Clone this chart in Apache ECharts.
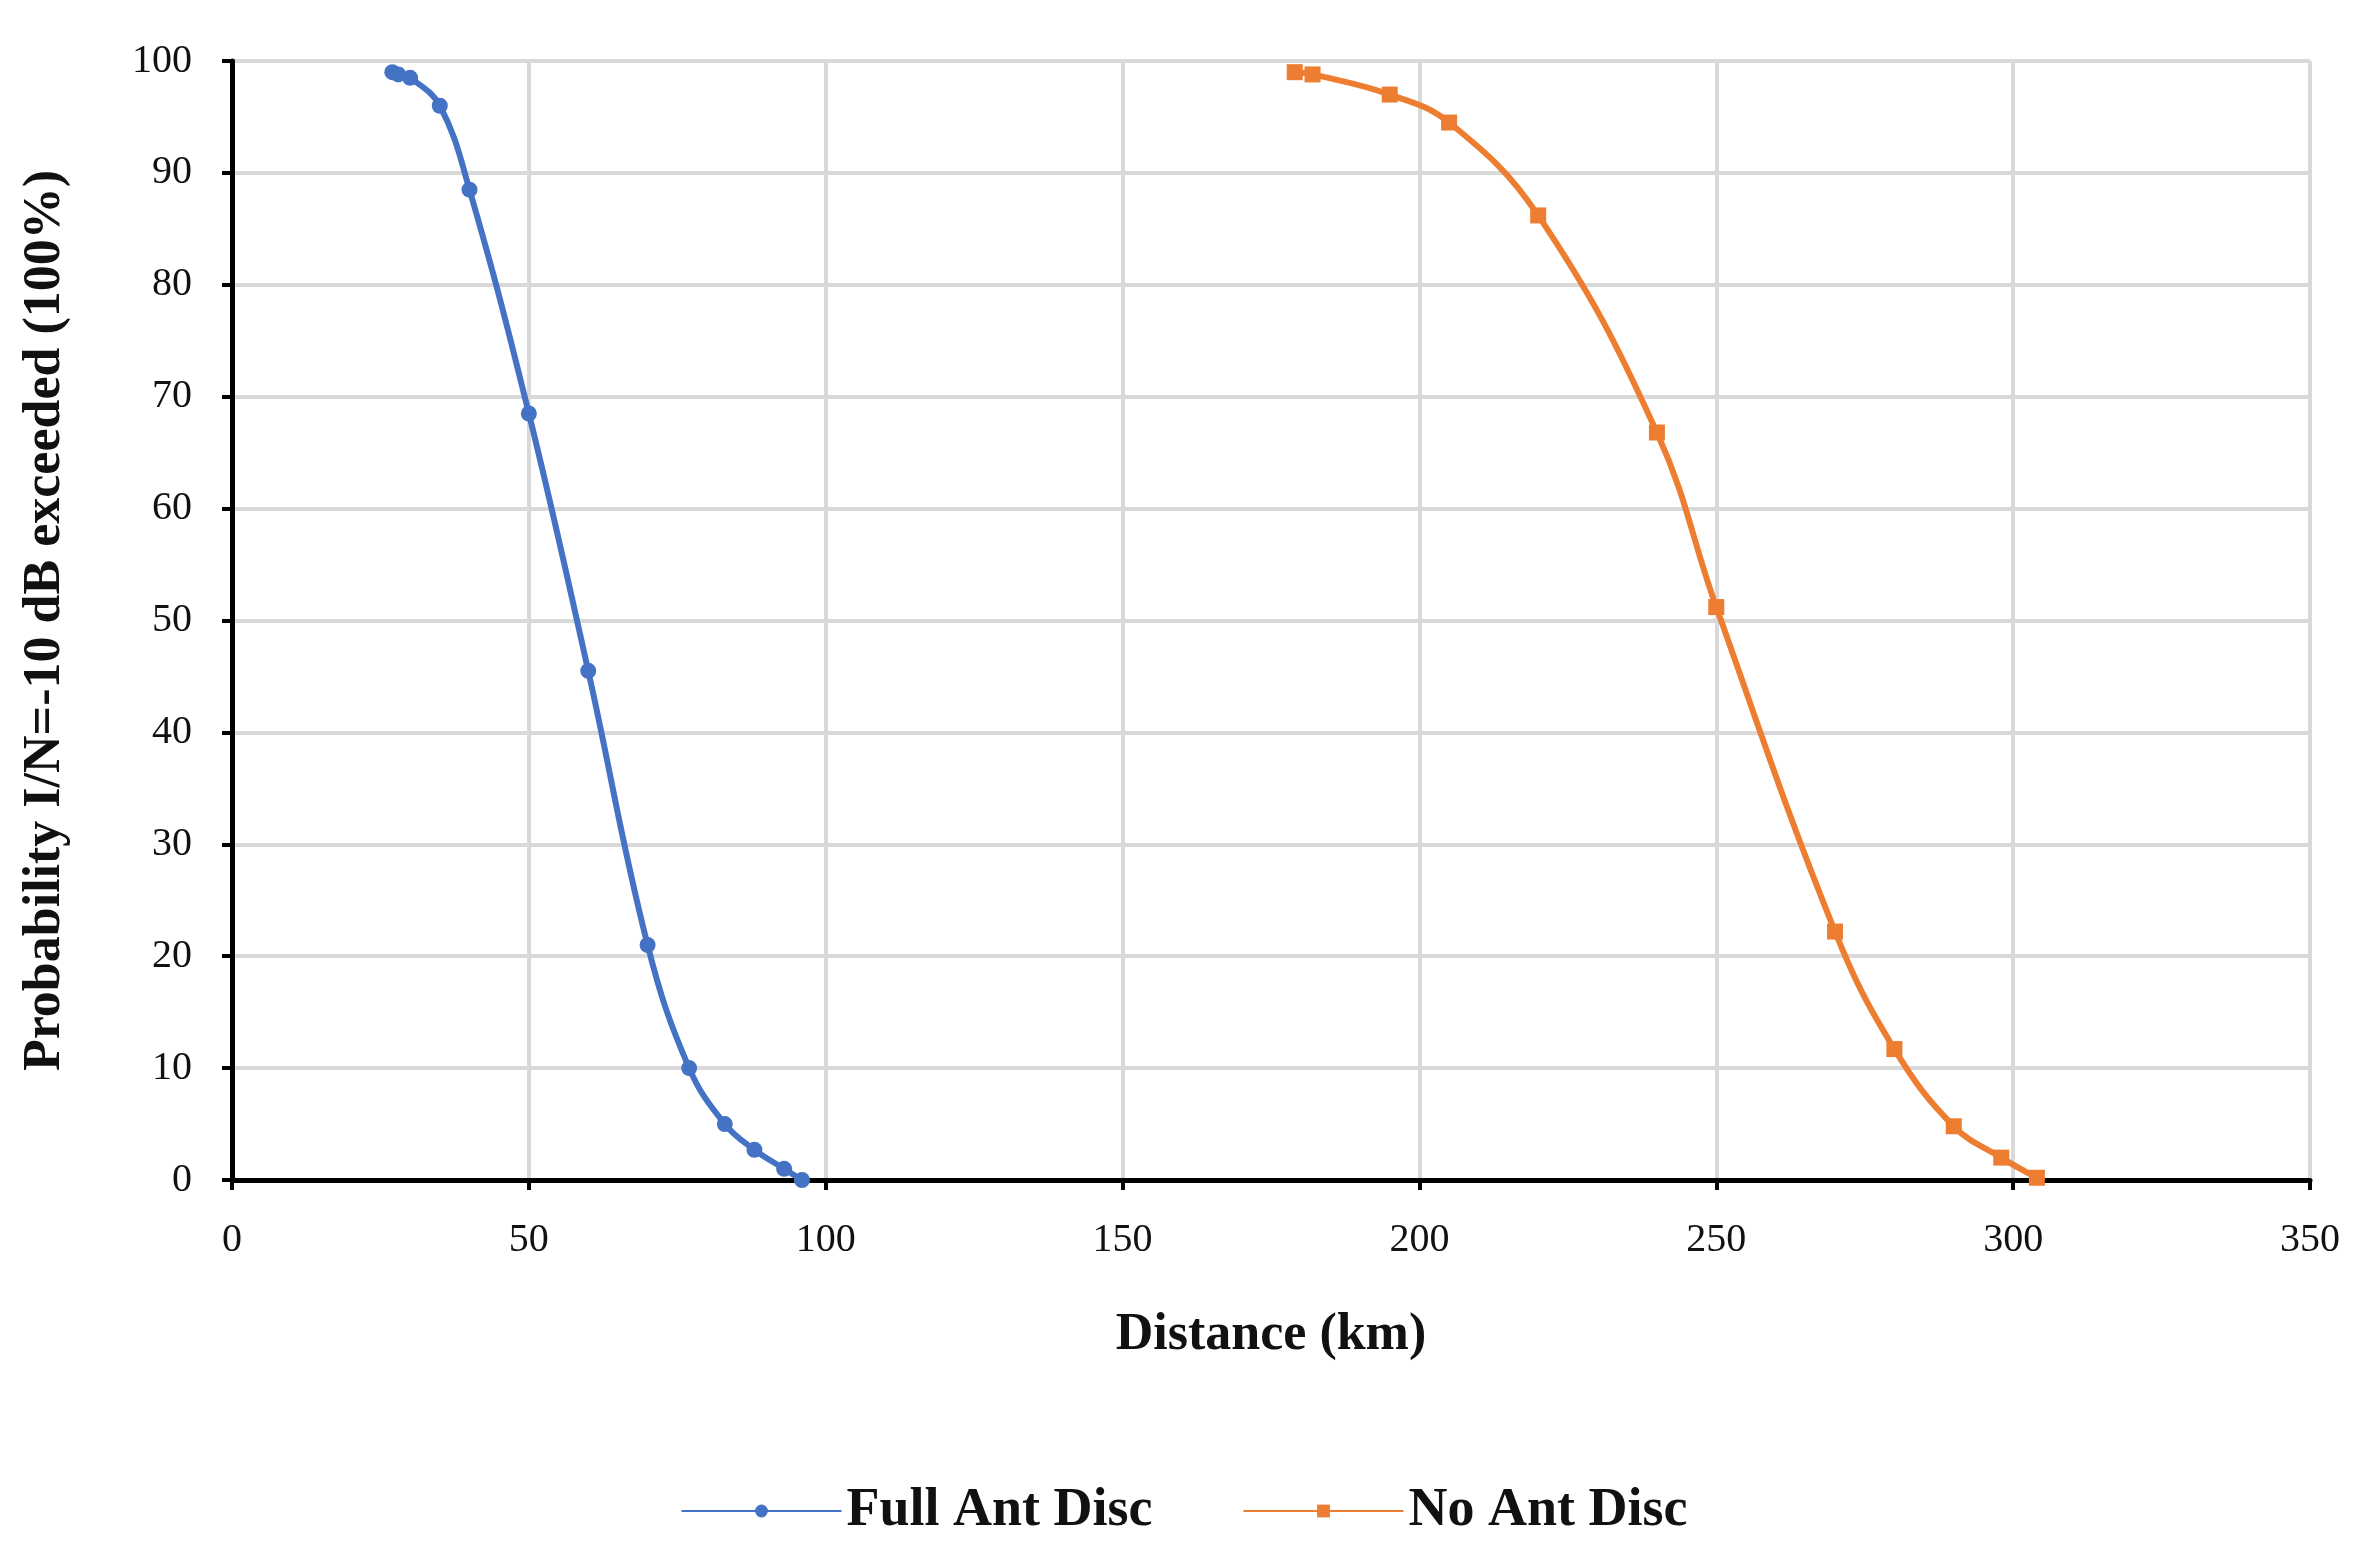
<!DOCTYPE html>
<html><head><meta charset="utf-8">
<script src="https://cdn.jsdelivr.net/npm/echarts@6/dist/echarts.min.js"></script>
<style>html,body{margin:0;background:#fff}#chart{width:2368px;height:1557px}</style>
</head><body><div id="chart"></div>
<script>
var fullAntDist = [27, 28, 30, 35, 40, 50, 60, 70, 77, 83, 88, 93, 96];
var fullAntProb = [99, 98.8, 98.5, 96, 88.5, 68.5, 45.5, 21, 10, 5, 2.7, 1, 0];
var noAntDist = [179, 182, 195, 205, 220, 240, 250, 270, 280, 290, 298, 304];
var noAntProb = [99, 98.8, 97, 94.5, 86.2, 66.8, 51.2, 22.2, 11.7, 4.8, 2, 0.2];

var font = 'Liberation Serif';
var chart = echarts.init(document.getElementById('chart'));
function pairs(xs, ys) { return xs.map(function (x, i) { return [x, ys[i]]; }); }

chart.setOption({
    textStyle: { fontFamily: font },
    grid: { left: 232, right: 58, top: 61, bottom: 377 },
    legend: {
        bottom: 14, itemGap: 90, itemWidth: 160, itemHeight: 16,
        textStyle: { fontFamily: font, fontWeight: 'bold', fontSize: 54, color: '#111' },
        data: ['Full Ant Disc', 'No Ant Disc']
    },
    xAxis: {
        type: 'value', min: 0, max: 350, interval: 50,
        name: 'Distance (km)', nameLocation: 'middle', nameGap: 130,
        nameTextStyle: { fontFamily: font, fontWeight: 'bold', fontSize: 52, color: '#111' },
        axisLine: { lineStyle: { color: '#000', width: 5 } },
        axisTick: { show: true, inside: false, length: 10, lineStyle: { color: '#000', width: 4 } },
        axisLabel: { fontSize: 40, color: '#111', margin: 40 },
        splitLine: { lineStyle: { color: '#d9d9d9', width: 4 } }
    },
    yAxis: {
        type: 'value', min: 0, max: 100, interval: 10,
        name: 'Probability I/N=-10 dB exceeded (100%)', nameLocation: 'middle', nameGap: 160,
        nameTextStyle: { fontFamily: font, fontWeight: 'bold', fontSize: 52, color: '#111' },
        axisLine: { show: true, lineStyle: { color: '#000', width: 5 } },
        axisTick: { show: true, length: 10, lineStyle: { color: '#000', width: 4 } },
        axisLabel: { fontSize: 40, color: '#111', margin: 40 },
        splitLine: { lineStyle: { color: '#d9d9d9', width: 4 } }
    },
    series: [
        {
            name: 'Full Ant Disc', type: 'line', smooth: 0.4, data: pairs(fullAntDist, fullAntProb),
            symbol: 'circle', symbolSize: 16, color: '#4472c4',
            lineStyle: { width: 6 }
        },
        {
            name: 'No Ant Disc', type: 'line', smooth: 0.4, data: pairs(noAntDist, noAntProb),
            symbol: 'rect', symbolSize: 16, color: '#ed7d31',
            lineStyle: { width: 6 }
        }
    ]
});
</script></body></html>
